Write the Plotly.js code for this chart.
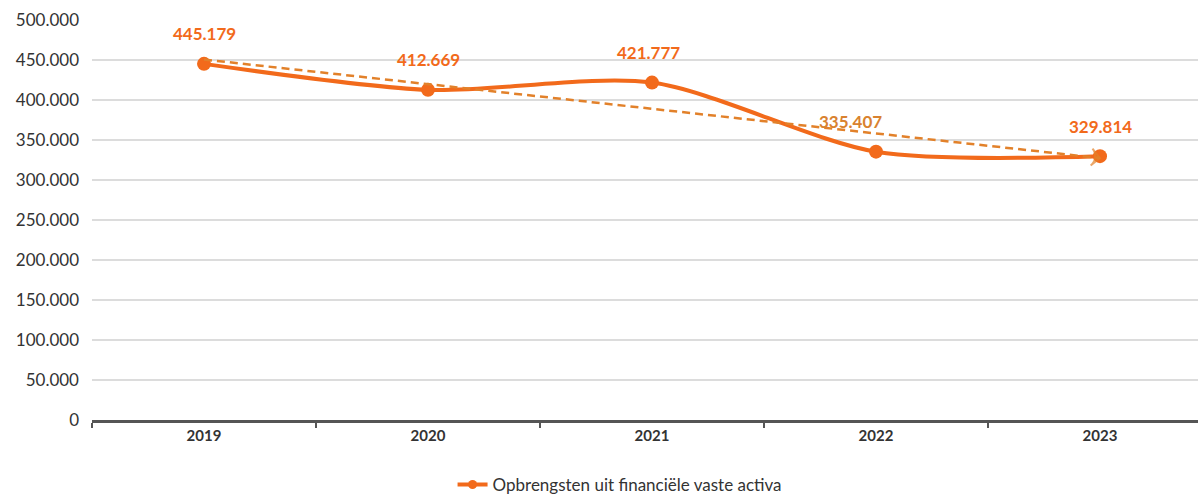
<!DOCTYPE html>
<html>
<head>
<meta charset="utf-8">
<script src="https://cdn.plot.ly/plotly-3.0.1.min.js"></script>
<style>html,body{margin:0;padding:0;background:#fff}#chart{width:1198px;height:503px}</style>
</head>
<body>
<div id="chart"></div>
<script>
// Data
const years = [2019, 2020, 2021, 2022, 2023];
const revenue = [445179, 412669, 421777, 335407, 329814];
const revenueLabels = ['445.179', '412.669', '421.777', '335.407', '329.814'];
const seriesName = 'Opbrengsten uit financiële vaste activa';
// Linear trendline as drawn (start and end)
const trendYears = [2019, 2023];
const trendValues = [450600, 327400];

const orange = '#F26A1B';
const trendColor = '#E2812A';
const font = 'Lato, "Open Sans", sans-serif';

const traces = [
  {
    x: years, y: revenue, name: seriesName, type: 'scatter', mode: 'lines+markers',
    showlegend: false,
    line: {color: orange, width: 4, shape: 'spline', smoothing: 0.8},
    marker: {color: orange, size: 14}
  },
  {
    x: trendYears, y: trendValues, type: 'scatter', mode: 'lines+markers', showlegend: false,
    hoverinfo: 'skip',
    line: {color: trendColor, width: 2.5, dash: '8px,5px'},
    marker: {symbol: ['circle', 'arrow-wide-open'], size: [0, 12], angleref: 'previous',
             color: trendColor, line: {color: trendColor, width: 2}}
  },
  {
    // legend entry only (smaller legend marker, as in the reference)
    x: [null], y: [null], name: seriesName, type: 'scatter', mode: 'lines+markers',
    line: {color: orange, width: 4}, marker: {color: orange, size: 9}
  }
];

const labelShift = [0, 0, -4, -26, 0];
const annotations = years.map((yr, i) => ({
  x: yr, y: revenue[i], text: revenueLabels[i], showarrow: false,
  yshift: 30, xshift: labelShift[i],
  font: {family: font, size: 17, weight: 'bold', color: i === 3 ? '#D9822F' : orange}
}));

const layout = {
  width: 1198, height: 503,
  margin: {l: 92, r: 0, t: 20, b: 79},
  paper_bgcolor: '#fff', plot_bgcolor: '#fff',
  separators: ',.',
  font: {family: font, color: '#333'},
  showlegend: true,
  legend: {orientation: 'h', x: 0.477, xanchor: 'center', y: -0.163, yanchor: 'middle',
           font: {family: font, size: 17, color: '#333'}},
  xaxis: {
    type: 'linear', range: [2018.5, 2023.4375],
    tickvals: years, ticktext: years.map(String), ticks: '',
    tickfont: {family: font, size: 15, color: '#333', weight: 'bold'},
    showgrid: false, zeroline: false,
    showline: true, linecolor: '#555', linewidth: 2.5,
    minor: {tick0: 2018.5, dtick: 1, ticks: 'outside', ticklen: 5, tickwidth: 2, tickcolor: '#555', showgrid: false}
  },
  yaxis: {
    range: [0, 500000], dtick: 50000, tickformat: ',d',
    tickfont: {family: font, size: 17, color: '#333'},
    ticklabelstandoff: 12,
    showgrid: true, gridcolor: '#dcdcdc', gridwidth: 1.5,
    zeroline: false, showline: false, ticks: ''
  },
  annotations: annotations
};

Plotly.newPlot('chart', traces, layout, {displayModeBar: false, staticPlot: true});
</script>
</body>
</html>
